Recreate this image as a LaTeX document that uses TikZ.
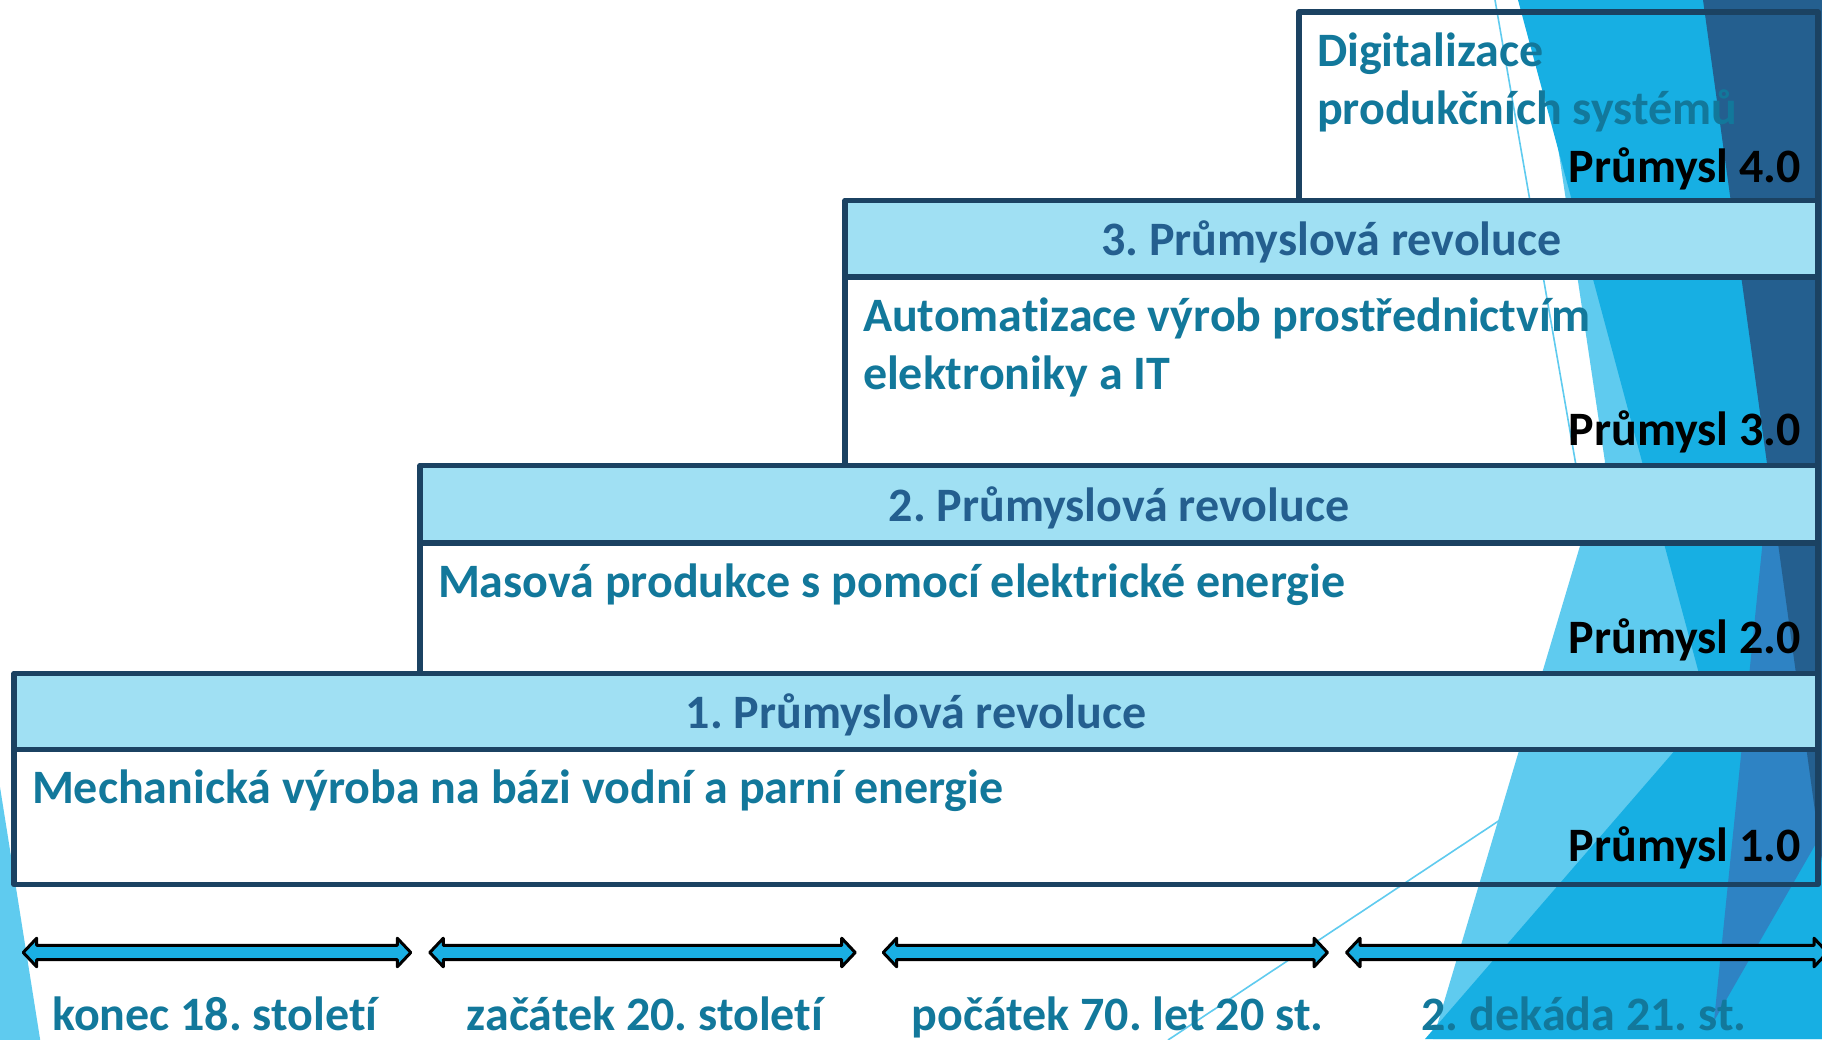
\documentclass[tikz,border=0pt]{standalone}
\usepackage{fontspec}
\setmainfont{Carlito}[Ligatures=NoCommon]
\frenchspacing
\definecolor{lightbg}{HTML}{5FCBEF}
\definecolor{midbg}{HTML}{17AFE3}
\definecolor{darkbg}{HTML}{245F8F}
\definecolor{midtwobg}{HTML}{2E83C4}
\definecolor{boxc}{HTML}{1B4262}
\definecolor{headc}{HTML}{A0E0F3}
\definecolor{headtextc}{HTML}{245F8F}
\definecolor{bodytextc}{HTML}{12789B}
\definecolor{arrowc}{HTML}{1AAFE3}
\tikzset{
  boxborder/.style={draw=boxc, line width=5.5pt, line join=round},
  headerfill/.style={fill=headc},
  lbl/.style={inner sep=0pt, outer sep=0pt, font=\bfseries\fontsize{48}{58}\selectfont},
  bodytxt/.style={lbl, text=bodytextc, anchor=base west},
  headtxt/.style={lbl, text=headtextc, anchor=base},
  indtxt/.style={lbl, text=black, anchor=base east},
  datetxt/.style={lbl, text=bodytextc, anchor=base},
  arrowshape/.style={fill=arrowc, draw=black, line width=3pt, line join=round},
  thinline/.style={draw=lightbg, line width=1.6pt}
}
\begin{document}
\begin{tikzpicture}[x=1pt,y=-1pt]
\useasboundingbox (0,0) rectangle (1822,1039);
\fill[white] (0,0) rectangle (1822,1039);
% background facets
\fill[lightbg] (0,787) -- (41,1045) -- (0,1045) -- cycle;
\draw[thinline] (1495,0) -- (1586,523);
\fill[lightbg] (1536,0) -- (1605,462) -- (1433,1039) -- (1822,1039) -- (1822,0) -- cycle;
\draw[thinline] (1500,820) -- (1168,1040);
\fill[midbg] (1518,0) -- (1709,711) -- (1425,1039) -- (1822,1039) -- (1822,0) -- cycle;
\fill[midtwobg] (1714,1021) -- (1772,450) -- (1822,450) -- (1822,833) -- cycle;
\fill[darkbg] (1703,0) -- (1822,862) -- (1822,0) -- cycle;
% header fills
\fill[headerfill] (845,200.5) rectangle (1818,277);
\fill[headerfill] (420,465.5) rectangle (1818,543);
\fill[headerfill] (14,673.5) rectangle (1818,749.5);
% box borders
\draw[boxborder] (1299,200.5) -- (1299,12) -- (1818,12) -- (1818,200.5);
\draw[boxborder] (845,200.5) rectangle (1818,465.5);
\draw[boxborder] (845,277) -- (1818,277);
\draw[boxborder] (420,465.5) rectangle (1818,673.5);
\draw[boxborder] (420,543) -- (1818,543);
\draw[boxborder] (14,673.5) rectangle (1818,884.5);
\draw[boxborder] (14,749.5) -- (1818,749.5);
% texts
\node[bodytxt] (d4a) at (1317,66) {Digitalizace};
\node[bodytxt] (d4b) at (1317,124) {produkčních systémů};
\node[indtxt] (p4) at (1801,182) {Průmysl 4.0};
\node[headtxt] (h3) at (1331.5,255) {3. Průmyslová revoluce};
\node[bodytxt] (d3a) at (863,331) {Automatizace výrob prostřednictvím};
\node[bodytxt] (d3b) at (863,389) {elektroniky a IT};
\node[indtxt] (p3) at (1801,445) {Průmysl 3.0};
\node[headtxt] (h2) at (1119,521) {2. Průmyslová revoluce};
\node[bodytxt] (d2) at (438,597) {Masová produkce s pomocí elektrické energie};
\node[indtxt] (p2) at (1801,653) {Průmysl 2.0};
\node[headtxt] (h1) at (916,728) {1. Průmyslová revoluce};
\node[bodytxt] (d1) at (32,803) {Mechanická výroba na bázi vodní a parní energie};
\node[indtxt] (p1) at (1801,861) {Průmysl 1.0};
% timeline arrows
\foreach \a/\b in {21.7/412.3, 428.3/856.7, 881.7/1329, 1345/1829} {
  \draw[arrowshape] ({\a+1.5},952.5) -- ({\a+15},938.2) -- ({\a+15},945.4) -- ({\b-15},945.4)
    -- ({\b-15},938.2) -- ({\b-1.5},952.5) -- ({\b-15},966.8) -- ({\b-15},959.6)
    -- ({\a+15},959.6) -- ({\a+15},966.8) -- cycle;
}
\node[datetxt] (t1) at (215,1030) {konec 18. století};
\node[datetxt] (t2) at (645,1030) {začátek 20. století};
\node[datetxt] (t3) at (1117.5,1030) {počátek 70. let 20 st.};
\node[datetxt] (t4) at (1584,1030) {2. dekáda 21. st.};
\end{tikzpicture}
\end{document}
